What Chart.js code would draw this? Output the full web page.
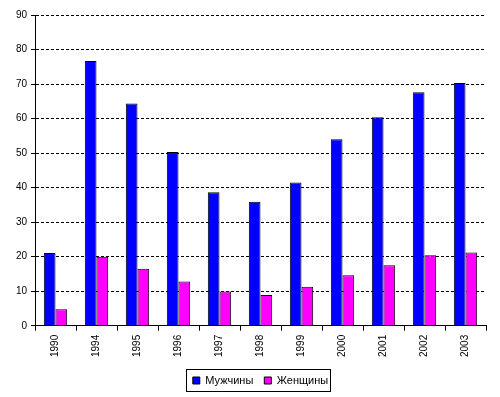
<!DOCTYPE html>
<html lang="ru">
<head>
  <meta charset="UTF-8" />
  <title>Мужчины и женщины</title>
  <script src="https://cdn.jsdelivr.net/npm/chart.js"></script>
  <style>
    body {
      margin: 0;
      padding: 0;
      background: #fff;
    }
    #wrap {
      width: 500px;
      height: 397px;
      position: relative;
    }
  </style>
</head>
<body>
  <div id="wrap"><canvas id="chart"></canvas></div>

  <script>
    const years = ['1990', '1994', '1995', '1996', '1997', '1998', '1999', '2000', '2001', '2002', '2003'];
    const men   = [21.1, 76.7, 64.4, 50.3, 38.7, 35.9, 41.5, 54.0, 60.4, 67.6, 70.3];
    const women = [4.8, 20.0, 16.5, 12.8, 9.9, 8.9, 11.3, 14.6, 17.5, 20.4, 21.2];
    const yMin = 0, yMax = 90, yStep = 10;

    const FONT = { family: 'Arial, "Liberation Sans", sans-serif', size: 10 };
    const LEGEND_FONT = { family: 'Arial, "Liberation Sans", sans-serif', size: 11 };

    // centre the legend under the plot area (not the whole canvas)
    // and draw a thin frame round it, like the original
    const legendFrame = {
      id: 'legendFrame',
      afterUpdate(chart) {
        const lg = chart.legend;
        const ca = chart.chartArea;
        if (!lg || !ca) return;
        lg.fit();
        lg.left = ca.left;
        lg.right = ca.right;
        lg.width = ca.right - ca.left;
        lg.adjustHitBoxes();
        const hb = lg.legendHitBoxes;
        if (!hb.length) return;
        const dy = 375 - hb[0].top;
        hb.forEach(b => { b.top += dy; });
        lg.top += dy;
        lg.bottom += dy;
      },
      afterDraw(chart) {
        const lg = chart.legend;
        if (!lg || !lg.legendHitBoxes.length) return;
        const boxes = lg.legendHitBoxes;
        const x1 = Math.min(...boxes.map(b => b.left)) - 7;
        const x2 = Math.max(...boxes.map(b => b.left + b.width)) + 2;
        const y1 = Math.min(...boxes.map(b => b.top)) - 6;
        const y2 = Math.max(...boxes.map(b => b.top + b.height)) + 5;
        const ctx = chart.ctx;
        ctx.save();
        ctx.strokeStyle = '#000';
        ctx.lineWidth = 1;
        ctx.strokeRect(Math.round(x1) + 0.5, Math.round(y1) + 0.5, Math.round(x2 - x1), Math.round(y2 - y1));
        ctx.restore();
      }
    };

    new Chart(document.getElementById('chart'), {
      type: 'bar',
      data: {
        labels: years,
        datasets: [
          {
            label: 'Мужчины',
            data: men,
            backgroundColor: '#0000ff',
            borderColor: '#000',
            borderWidth: 1,
            borderSkipped: 'bottom',
            barPercentage: 1.0,
            categoryPercentage: 0.57
          },
          {
            label: 'Женщины',
            data: women,
            backgroundColor: '#ff00ff',
            borderColor: '#000',
            borderWidth: 1,
            borderSkipped: 'bottom',
            barPercentage: 1.0,
            categoryPercentage: 0.57
          }
        ]
      },
      options: {
        responsive: true,
        maintainAspectRatio: false,
        animation: false,
        layout: { padding: { left: 0, right: 14, top: 15, bottom: 6 } },
        plugins: {
          legend: {
            position: 'bottom',
            labels: {
              font: LEGEND_FONT,
              color: '#000',
              boxWidth: 7,
              boxHeight: 7,
              padding: 11
            }
          },
          tooltip: { enabled: false }
        },
        scales: {
          x: {
            afterFit(scale) { scale.height -= 2; },
            grid: {
              display: true,
              drawOnChartArea: false,
              offset: true,
              color: '#000',
              tickLength: 5
            },
            border: { color: '#000', width: 1 },
            ticks: {
              font: FONT,
              color: '#000',
              minRotation: 90,
              maxRotation: 90,
              padding: 4
            }
          },
          y: {
            min: yMin,
            max: yMax,
            afterFit(scale) { scale.width = 35; },
            grid: {
              color: '#000',
              lineWidth: 1,
              tickLength: 4,
              tickBorderDash: [10, 0]
            },
            border: { color: '#000', width: 1, dash: [3, 2] },
            ticks: {
              stepSize: yStep,
              font: FONT,
              color: '#000',
              padding: 4
            }
          }
        }
      },
      plugins: [legendFrame]
    });
  </script>
</body>
</html>
